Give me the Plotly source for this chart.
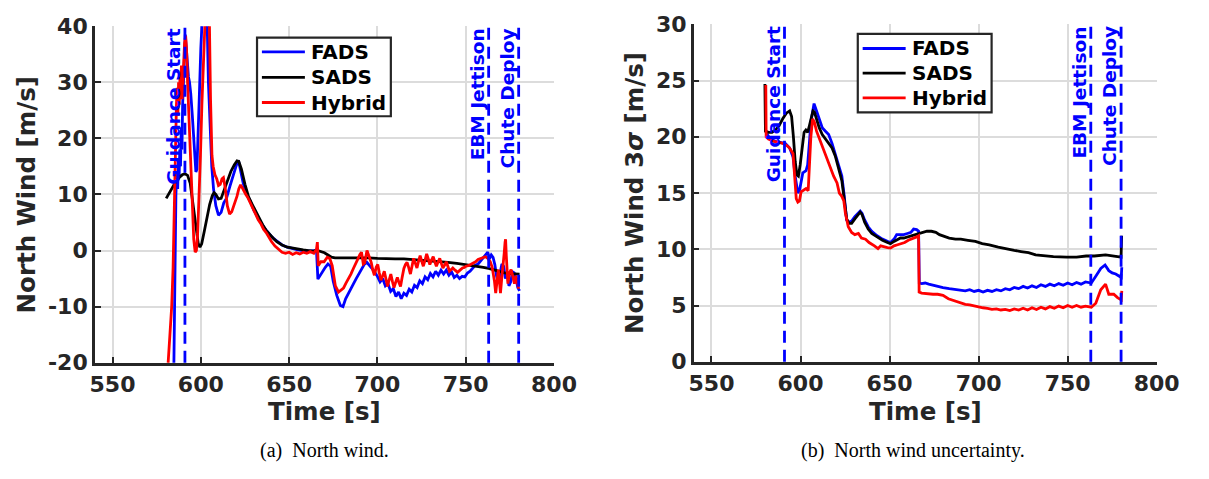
import plotly.graph_objects as go

# ---------------- Data: (a) North wind ----------------
t_fads_a = [584.0, 584.8, 585.4, 585.9, 586.4, 586.9, 587.3, 587.7, 588.1, 588.5, 588.9, 589.3, 589.7, 590.1, 590.6,
            591.2, 591.8, 592.4, 593.0, 593.6, 594.3, 595.2, 596.2, 597.2, 597.8, 598.5, 599.2, 600.0, 600.6, 601.5,
            602.5, 603.5, 604.3, 605.2, 606.2, 607.2, 608.5, 610.0, 611.5, 613.0, 614.5, 616.5, 618.5, 620.5, 621.5,
            622.5, 624.0, 626.0, 628.0, 630.0, 632.0, 634.0, 636.0, 638.0, 640.0, 643.0, 646.0, 649.0, 652.0, 655.0,
            658.0, 661.0, 664.0, 665.5, 666.3, 667.5, 669.0, 670.5, 672.0, 673.5, 675.0, 677.0, 679.0, 680.5, 682.0,
            683.5, 685.0, 686.5, 688.0, 689.5, 691.0, 692.5, 694.0, 695.5, 697.0, 698.5, 700.0, 701.5, 703.0, 704.5,
            706.0, 707.5, 709.0, 710.5, 712.0, 713.5, 715.0, 716.5, 718.0, 719.5, 721.0, 722.5, 724.0, 725.5, 727.0,
            728.5, 730.0, 731.5, 733.0, 734.5, 736.0, 737.5, 739.0, 740.5, 742.0, 743.5, 745.0, 746.5, 748.0, 749.5,
            751.0, 752.5, 754.0, 755.5, 757.0, 758.5, 760.0, 761.5, 762.5, 763.5, 764.5, 765.5, 766.5, 767.5, 768.5,
            769.5, 770.5, 771.5, 772.5, 773.5, 774.5, 775.5, 776.5, 777.5, 778.5, 779.5, 780.5]
fads_a = [-40, -20, 0, 10, 14, 11, 16, 13, 18, 15, 22, 18, 26, 30, 34,
          38.5, 36, 33, 31, 30, 28, 24, 19, 14, 14.5, 20, 28, 36, 42, 46,
          46, 42, 30, 21, 15, 11, 8, 6.3, 6.8, 8.5, 9.3, 11.5, 13.8, 15.6, 15.8,
          14.5, 12, 10, 8.8, 7.2, 6.0, 5.0, 4.0, 3.2, 2.5, 1.7, 1.0, 0.6, 0.3, 0.1,
          0.0, -0.1, 0.0, 0.1, -5.1, -4.5, -3.6, -3.0, -2.4, -2.8, -5.5, -8.0, -9.8, -10.0, -8.6,
          -7.6, -6.6, -5.9, -5.0, -4.2, -3.2, -2.5, -2.1, -2.6, -3.2, -3.9, -4.6, -5.6, -5.0, -6.3,
          -5.9, -7.3, -6.8, -8.2, -7.4, -8.6, -7.6, -8.0, -6.9, -7.4, -6.2, -6.6, -5.4, -5.9, -4.7,
          -5.2, -4.1, -4.7, -3.7, -4.4, -3.5, -4.2, -3.5, -4.4, -3.8, -4.8, -4.4, -5.0, -4.6, -4.7,
          -4.0, -3.7, -3.2, -2.6, -2.4, -1.8, -1.3, -0.6, -0.3, -1.5, -0.8, -1.2, -2.5, -4.6, -5.8,
          -4.0, -2.4, -2.8, -5.0, -4.2, -6.3, -5.6, -3.8, -4.0, -5.0, -6.6, -7.2]

t_sads_a = [580.4, 582.0, 584.0, 586.0, 588.0, 589.5, 591.0, 592.5, 594.0, 595.5, 597.0, 598.5, 599.5, 600.5, 602.0,
            603.5, 605.0, 606.5, 607.5, 608.5, 610.0, 611.5, 613.0, 615.0, 617.0, 619.0, 620.5, 621.5, 623.0, 625.0,
            627.0, 629.0, 631.0, 633.0, 635.0, 637.0, 639.0, 641.0, 643.0, 646.0, 649.0, 652.0, 655.0, 658.0, 661.0,
            664.0, 666.0, 668.0, 670.0, 672.0, 674.0, 676.0, 678.0, 680.0, 685.0, 690.0, 695.0, 700.0, 705.0, 710.0,
            715.0, 720.0, 725.0, 730.0, 735.0, 740.0, 745.0, 750.0, 755.0, 760.0, 763.0, 766.0, 769.0, 772.0, 775.0,
            778.0, 780.5]
sads_a = [9.3, 10.2, 11.3, 12.4, 13.1, 13.5, 13.7, 13.4, 12.0, 8.5, 4.0, 1.3, 0.6, 1.2, 3.5,
          6.0, 8.2, 9.8, 10.3, 10.0, 9.2, 9.3, 10.6, 12.5, 14.1, 15.3, 16.0, 15.9, 14.5, 11.8,
          9.6, 8.3, 7.0, 5.8, 4.6, 3.6, 2.8, 2.2, 1.6, 1.0, 0.6, 0.4, 0.2, 0.1, 0.0,
          -0.1, 0.0, -0.2, -0.4, -0.8, -1.2, -1.3, -1.3, -1.2, -1.3, -1.3, -1.3, -1.4, -1.5, -1.5,
          -1.5, -1.6, -1.7, -1.8, -1.9, -2.1, -2.3, -2.5, -2.7, -3.0, -3.2, -3.5, -3.8, -4.0, -4.1,
          -4.1, -4.2]

t_hyb_a = [580.9, 581.5, 582.5, 583.5, 584.3, 584.8, 585.3, 585.8, 586.2, 586.6, 587.0, 587.4, 587.8, 588.2, 588.6,
           589.0, 589.4, 589.8, 590.3, 590.8, 591.4, 591.9, 592.5, 593.2, 594.0, 595.0, 596.0, 596.8, 597.5, 598.2,
           599.0, 599.8, 600.6, 601.4, 602.2, 603.0, 604.0, 604.8, 605.5, 606.3, 607.0, 608.0, 609.0, 610.0, 611.0,
           612.0, 612.8, 613.8, 615.0, 616.3, 617.5, 619.0, 620.5, 621.5, 622.5, 623.5, 624.5, 625.5, 626.5, 628.0,
           629.5, 631.0, 632.5, 634.0, 635.5, 637.0, 638.5, 640.0, 642.0, 644.0, 646.0, 648.0, 650.0, 652.0, 654.0,
           656.0, 658.0, 660.0, 662.0, 664.0, 665.5, 666.0, 666.5, 668.0, 669.8, 671.6, 673.0, 674.4, 676.2, 678.0,
           679.5, 680.8, 682.2, 683.6, 685.0, 686.4, 687.8, 689.1, 690.1, 691.0, 692.0, 692.8, 694.1, 695.3, 696.5,
           697.4, 698.3, 699.3, 700.2, 701.1, 702.0, 703.0, 703.9, 704.8, 705.7, 706.6, 707.6, 708.5, 709.4, 710.3,
           711.3, 712.2, 713.1, 714.0, 715.0, 715.9, 716.8, 717.7, 718.7, 719.6, 720.5, 721.4, 722.4, 723.3, 724.2,
           725.1, 726.0, 727.0, 727.9, 728.8, 729.7, 730.7, 731.6, 732.5, 733.4, 734.4, 735.3, 736.2, 737.1, 738.1,
           739.0, 739.9, 740.8, 741.8, 742.7, 744.0, 745.4, 746.8, 748.2, 749.2, 750.1, 751.5, 752.8, 754.2, 755.6,
           757.0, 758.4, 759.8, 761.1, 762.5, 763.9, 765.0, 765.7, 766.3, 767.0, 767.7, 768.5, 769.1, 769.7, 770.4,
           771.1, 771.8, 772.3, 772.6, 773.0, 773.9, 774.8, 775.7, 776.6, 777.6, 778.5, 779.5, 780.0]
hyb_a = [-22, -20, -15, -10, -3, 3, 12, 20, 26, 29, 24, 30, 26, 31, 28,
         33, 27, 30, 34, 37, 38.3, 36, 30, 24, 16, 8, 2, -0.3, 0, 3,
         9, 17, 26, 35, 42, 46, 46, 42, 27, 17, 15, 13.5, 12.8, 11.6, 11.8,
         12.8, 13.0, 11.2, 8.0, 6.5, 6.9, 8.2, 9.7, 11.0, 11.7, 11.2, 10.5, 10.0, 9.5, 8.5,
         7.5, 6.4, 5.5, 4.8, 3.8, 3.2, 2.3, 1.6, 0.8, 0.3, -0.3, -0.5, -0.3, -0.7, -0.4,
         -0.6, -0.3, -0.5, -0.2, -0.5, 0.2, 1.5, -2.7, -2.0, -2.0, -1.2, -1.4, -2.7, -6.3, -7.4,
         -7.0, -6.7, -5.8, -5.1, -4.2, -3.2, -2.4, -1.4, -0.7, -0.3, -2.4, -2.2, 0.0, -1.0, -2.1,
         -3.5, -4.4, -3.0, -2.5, -4.0, -5.3, -4.5, -3.7, -5.0, -6.4, -5.3, -4.2, -5.5, -6.6, -5.7,
         -4.8, -5.7, -6.4, -4.8, -3.2, -2.5, -2.1, -3.0, -4.2, -2.8, -1.4, -2.2, -3.1, -1.9, -0.9,
         -1.9, -2.8, -1.7, -0.6, -1.5, -2.5, -1.7, -1.1, -2.0, -2.8, -2.0, -1.4, -2.3, -3.1, -2.6,
         -2.0, -2.8, -3.7, -3.4, -3.1, -3.5, -3.9, -3.5, -3.1, -3.0, -2.8, -2.7, -2.5, -2.3, -2.0,
         -1.6, -1.4, -1.2, -1.1, -1.4, -2.0, -3.0, -4.2, -5.5, -7.6, -5.0, -3.4, -5.5, -7.6, -5.0,
         -3.1, -0.5, 1.5, 2.0, -1.0, -5.9, -4.0, -3.4, -4.5, -5.9, -4.5, -6.5, -6.8]

# ---------------- Data: (b) North wind 3-sigma ----------------
t_sads_b = [580.0, 580.3, 582.0, 584.0, 586.0, 588.0, 590.0, 592.0, 593.9, 595.0, 596.0, 597.0, 598.0, 598.8, 599.8,
            601.0, 602.0, 603.0, 604.0, 605.0, 606.0, 607.0, 607.8, 609.0, 610.5, 612.2, 614.0, 616.0, 617.7, 619.5,
            621.5, 623.2, 624.5, 625.9, 627.3, 628.7, 630.5, 632.5, 633.5, 634.5, 636.0, 638.0, 640.0, 643.0, 646.0,
            648.8, 650.5, 652.5, 654.5, 656.1, 658.0, 660.0, 662.0, 664.0, 665.2, 667.0, 669.0, 671.0, 673.5, 676.0,
            678.0, 680.0, 683.5, 687.0, 690.0, 694.0, 698.2, 702.0, 706.0, 711.0, 716.0, 720.0, 723.8, 728.0, 732.0,
            736.6, 742.0, 749.4, 755.0, 760.4, 765.0, 771.3, 775.0, 778.0, 780.0, 780.3]
sads_b = [24.7, 20.5, 20.4, 20.4, 20.6, 21.0, 21.6, 22.1, 22.3, 21.8, 20.0, 17.8, 16.6, 16.5, 17.5,
          19.4, 20.4, 20.6, 20.4, 21.0, 21.8, 22.3, 22.2, 21.5, 20.8, 20.2, 19.8, 19.4, 19.0, 18.3,
          17.2, 16.1, 14.5, 12.7, 12.3, 12.3, 12.7, 13.1, 13.3, 13.1, 12.4, 11.8, 11.4, 11.1, 10.8,
          10.6, 10.5, 10.7, 10.9, 11.0, 11.0, 11.1, 11.2, 11.3, 11.3, 11.4, 11.5, 11.6, 11.6, 11.5,
          11.3, 11.2, 11.0, 10.9, 10.9, 10.8, 10.7, 10.5, 10.4, 10.2, 10.0, 9.9, 9.8, 9.7, 9.5,
          9.4, 9.35, 9.3, 9.3, 9.4, 9.4, 9.5, 9.45, 9.35, 9.3, 11.2]

t_fads_b = [581.0, 583.0, 586.0, 589.0, 591.5, 593.9, 595.8, 597.0, 598.5, 599.5, 601.3, 603.1, 604.0, 605.0, 605.8,
            607.6, 609.0, 610.5, 612.2, 614.0, 615.8, 617.7, 619.5, 621.5, 623.2, 624.5, 625.9, 627.3, 628.7, 630.5,
            632.5, 633.5, 634.5, 636.0, 638.0, 640.0, 643.0, 646.0, 648.8, 650.5, 652.5, 654.0, 656.0, 658.0, 660.0,
            662.0, 663.5, 665.2, 666.3, 666.7, 668.0, 670.0, 672.0, 674.4, 677.0, 680.0, 683.5, 687.0, 690.0, 692.5,
            695.0, 697.5, 700.0, 702.5, 705.0, 707.5, 710.0, 712.5, 715.0, 717.5, 720.0, 722.5, 725.0, 727.5, 730.0,
            732.5, 735.0, 737.5, 740.0, 742.5, 745.0, 747.5, 750.0, 752.5, 755.0, 757.5, 760.0, 763.3, 765.8, 768.6,
            771.0, 773.1, 775.0, 777.0, 779.0, 780.1, 780.4]
fads_b = [20.3, 19.8, 19.6, 19.5, 19.4, 19.0, 18.2, 16.5, 15.0, 15.3, 16.8, 17.0, 17.5, 19.5, 21.3,
          22.95, 22.3, 21.4, 20.8, 20.5, 20.2, 19.4, 18.5, 17.5, 16.5, 14.8, 12.6, 12.4, 12.5, 12.9,
          13.3, 13.4, 13.2, 12.6, 12.0, 11.6, 11.2, 10.9, 10.7, 10.6, 10.9, 11.3, 11.3, 11.3, 11.4,
          11.5, 11.8, 11.75, 11.6, 7.0, 6.95, 7.0, 6.9, 6.8, 6.75, 6.6, 6.5, 6.4, 6.35, 6.3,
          6.4, 6.25, 6.35, 6.2, 6.35, 6.25, 6.4, 6.3, 6.5, 6.4, 6.6, 6.5, 6.7, 6.55, 6.75,
          6.6, 6.85, 6.7, 6.9, 6.75, 6.95, 6.8, 7.0, 6.85, 7.05, 6.9, 7.1, 7.0, 7.6, 8.3,
          8.6, 8.1, 7.9, 7.8, 7.6, 7.5, 8.4]

t_hyb_b = [580.5, 580.7, 582.0, 585.0, 588.0, 590.5, 592.5, 593.9, 595.8, 596.8, 597.6, 598.5, 599.4, 600.3, 601.5,
           603.1, 604.3, 605.0, 605.8, 606.8, 607.8, 609.0, 610.4, 612.2, 614.0, 616.0, 618.6, 620.5, 621.8, 623.2,
           624.3, 625.2, 626.8, 628.7, 630.5, 632.5, 634.2, 636.5, 638.5, 641.5, 643.5, 645.0, 647.0, 648.8, 650.5,
           652.5, 654.5, 656.1, 658.5, 660.5, 662.5, 665.2, 666.3, 666.6, 668.0, 670.0, 672.0, 674.4, 677.0, 680.0,
           683.0, 687.2, 690.0, 692.5, 695.0, 697.5, 700.0, 702.5, 705.0, 707.5, 710.0, 712.5, 715.0, 717.5, 720.0,
           722.5, 725.0, 727.5, 730.0, 732.5, 735.0, 737.5, 740.0, 742.5, 745.0, 747.5, 750.0, 752.5, 755.0, 757.5,
           760.0, 763.3, 765.8, 768.6, 771.3, 773.1, 775.9, 778.0, 780.1, 780.4]
hyb_b = [24.6, 20.0, 19.8, 19.6, 19.5, 19.4, 19.2, 19.0, 18.5, 16.5, 14.5, 14.2, 14.3, 15.1, 15.2,
         15.4, 15.2, 17.5, 20.0, 21.6, 21.3, 20.5, 19.9, 19.1, 18.5, 17.6, 16.5, 15.9, 15.0, 14.7,
         14.3, 13.2, 12.0, 11.5, 11.3, 11.4, 11.0, 10.9, 10.6, 10.3, 10.05, 10.3, 10.2, 10.15, 10.1,
         10.3, 10.4, 10.5, 10.6, 10.8, 10.9, 11.1, 11.2, 6.2, 6.1, 6.05, 6.0, 6.0, 6.0, 5.9,
         5.6, 5.4, 5.2, 5.1, 5.05, 4.95, 4.9, 4.8, 4.75, 4.65, 4.7, 4.6, 4.65, 4.55, 4.7,
         4.6, 4.75, 4.6, 4.8, 4.65, 4.85, 4.7, 4.9, 4.75, 4.95, 4.8, 5.0, 4.85, 5.0, 4.85,
         4.95, 4.85, 5.2, 6.4, 6.9, 6.0, 6.0, 5.7, 5.5, 6.3]

# Events and ticks
event_times = [591, 763, 780]
event_labels = ["Guidance Start", "EBM Jettison", "Chute Deploy"]
x_ticks = [550, 600, 650, 700, 750, 800]
ya_ticks = [-20, -10, 0, 10, 20, 30, 40]
ya_ticklabels = ["-20", "-10", "0", "10", "20", "30", "40"]
yb_ticks = [0, 5, 10, 15, 20, 25, 30]
series_names = ["FADS", "SADS", "Hybrid"]

W, H = 1209, 479
BLUE, BLACK, RED = "#0000ff", "#000000", "#ff0000"
colors = [BLUE, BLACK, RED]
AX = "#262626"
FONT = "DejaVu Sans"
LW = 2.8

fig = go.Figure()
data_a = [(t_fads_a, fads_a), (t_sads_a, sads_a), (t_hyb_a, hyb_a)]
data_b = [(t_fads_b, fads_b), (t_sads_b, sads_b), (t_hyb_b, hyb_b)]
for name, col, (tx, ty) in zip(series_names, colors, data_a):
    fig.add_trace(go.Scatter(x=tx, y=ty, mode="lines", name=name, line=dict(color=col, width=LW),
                             xaxis="x", yaxis="y", showlegend=False))
for name, col, (tx, ty) in zip(series_names, colors, data_b):
    fig.add_trace(go.Scatter(x=tx, y=ty, mode="lines", name=name, line=dict(color=col, width=LW),
                             xaxis="x2", yaxis="y2", showlegend=False))


def px_x(p):
    return p / W


def px_y(p):
    return 1 - p / H


common_ax = dict(showgrid=True, gridcolor="#dcdcdc", gridwidth=1.5, showline=True, linecolor=AX, linewidth=2.5,
                 ticks="inside", ticklen=6, tickwidth=2, tickcolor=AX, zeroline=False,
                 tickfont=dict(family=FONT, size=22, color=AX, weight="bold"))

fig.update_layout(
    width=W, height=H, margin=dict(l=0, r=0, t=0, b=0),
    paper_bgcolor="white", plot_bgcolor="white",
    xaxis=dict(domain=[px_x(92), px_x(562)], range=[540, 800], tickvals=x_ticks, anchor="y", **common_ax),
    yaxis=dict(domain=[px_y(370), px_y(15)], range=[-20, 40], tickvals=ya_ticks, ticktext=ya_ticklabels,
               anchor="x", **common_ax),
    xaxis2=dict(domain=[px_x(705), px_x(1179)], range=[540, 800], tickvals=x_ticks, anchor="y2", **common_ax),
    yaxis2=dict(domain=[px_y(369), px_y(13)], range=[0, 30], tickvals=yb_ticks, anchor="x2", **common_ax),
    showlegend=False,
)

shapes = []
annotations = []
for xa, ya in (("x", "y"), ("x2", "y2")):
    for et, lab in zip(event_times, event_labels):
        shapes.append(dict(type="line", xref=xa, yref=ya + " domain", x0=et, x1=et, y0=0, y1=1,
                           line=dict(color=BLUE, width=LW, dash="12px,7px")))
        annotations.append(dict(text=lab, textangle=-90, xref=xa, yref=ya + " domain", x=et, y=1,
                                xanchor="right", yanchor="top", showarrow=False, xshift=1,
                                font=dict(family=FONT, size=18.5, color=BLUE, weight="bold")))

# Legend boxes, one per panel
legend_boxes = [dict(x0=258, x1=395, y0=27, y1=110, line_x0=263, line_x1=307, text_x=311, rows=[42, 69, 95.5]),
                dict(x0=873, x1=1010, y0=23, y1=106, line_x0=878, line_x1=922, text_x=926, rows=[38.5, 64.5, 90.5])]
for lb in legend_boxes:
    shapes.append(dict(type="rect", xref="paper", yref="paper", x0=px_x(lb["x0"]), x1=px_x(lb["x1"]),
                       y0=px_y(lb["y1"]), y1=px_y(lb["y0"]), fillcolor="white", line=dict(color=AX, width=2.2)))
    for name, col, ry in zip(series_names, colors, lb["rows"]):
        shapes.append(dict(type="line", xref="paper", yref="paper", x0=px_x(lb["line_x0"]), x1=px_x(lb["line_x1"]),
                           y0=px_y(ry), y1=px_y(ry), line=dict(color=col, width=LW)))
        annotations.append(dict(text=name, xref="paper", yref="paper", x=px_x(lb["text_x"]), y=px_y(ry),
                                xanchor="left", yanchor="middle", showarrow=False,
                                font=dict(family=FONT, size=20, color="black", weight="bold")))

title_font = dict(family=FONT, size=24.5, color=AX, weight="bold")
annotations += [
    dict(text="Time [s]", xref="paper", yref="paper", x=px_x(327), y=px_y(421), showarrow=False,
         xanchor="center", yanchor="middle", font=title_font),
    dict(text="Time [s]", xref="paper", yref="paper", x=px_x(942), y=px_y(421), showarrow=False,
         xanchor="center", yanchor="middle", font=title_font),
    dict(text="North Wind [m/s]", textangle=-90, xref="paper", yref="paper", x=px_x(23), y=px_y(192),
         showarrow=False, xanchor="center", yanchor="middle", font=title_font),
    dict(text="North Wind 3<i>σ</i> [m/s]", textangle=-90, xref="paper", yref="paper", x=px_x(644), y=px_y(191),
         showarrow=False, xanchor="center", yanchor="middle", font=title_font),
    dict(text="(a)&nbsp; North wind.", xref="paper", yref="paper", x=px_x(327), y=px_y(463), showarrow=False,
         xanchor="center", yanchor="middle", font=dict(family="Liberation Serif", size=20, color="black")),
    dict(text="(b)&nbsp; North wind uncertainty.", xref="paper", yref="paper", x=px_x(930), y=px_y(463),
         showarrow=False, xanchor="center", yanchor="middle",
         font=dict(family="Liberation Serif", size=20, color="black")),
]
fig.update_layout(shapes=shapes, annotations=annotations)

fig.write_html("out.html")
